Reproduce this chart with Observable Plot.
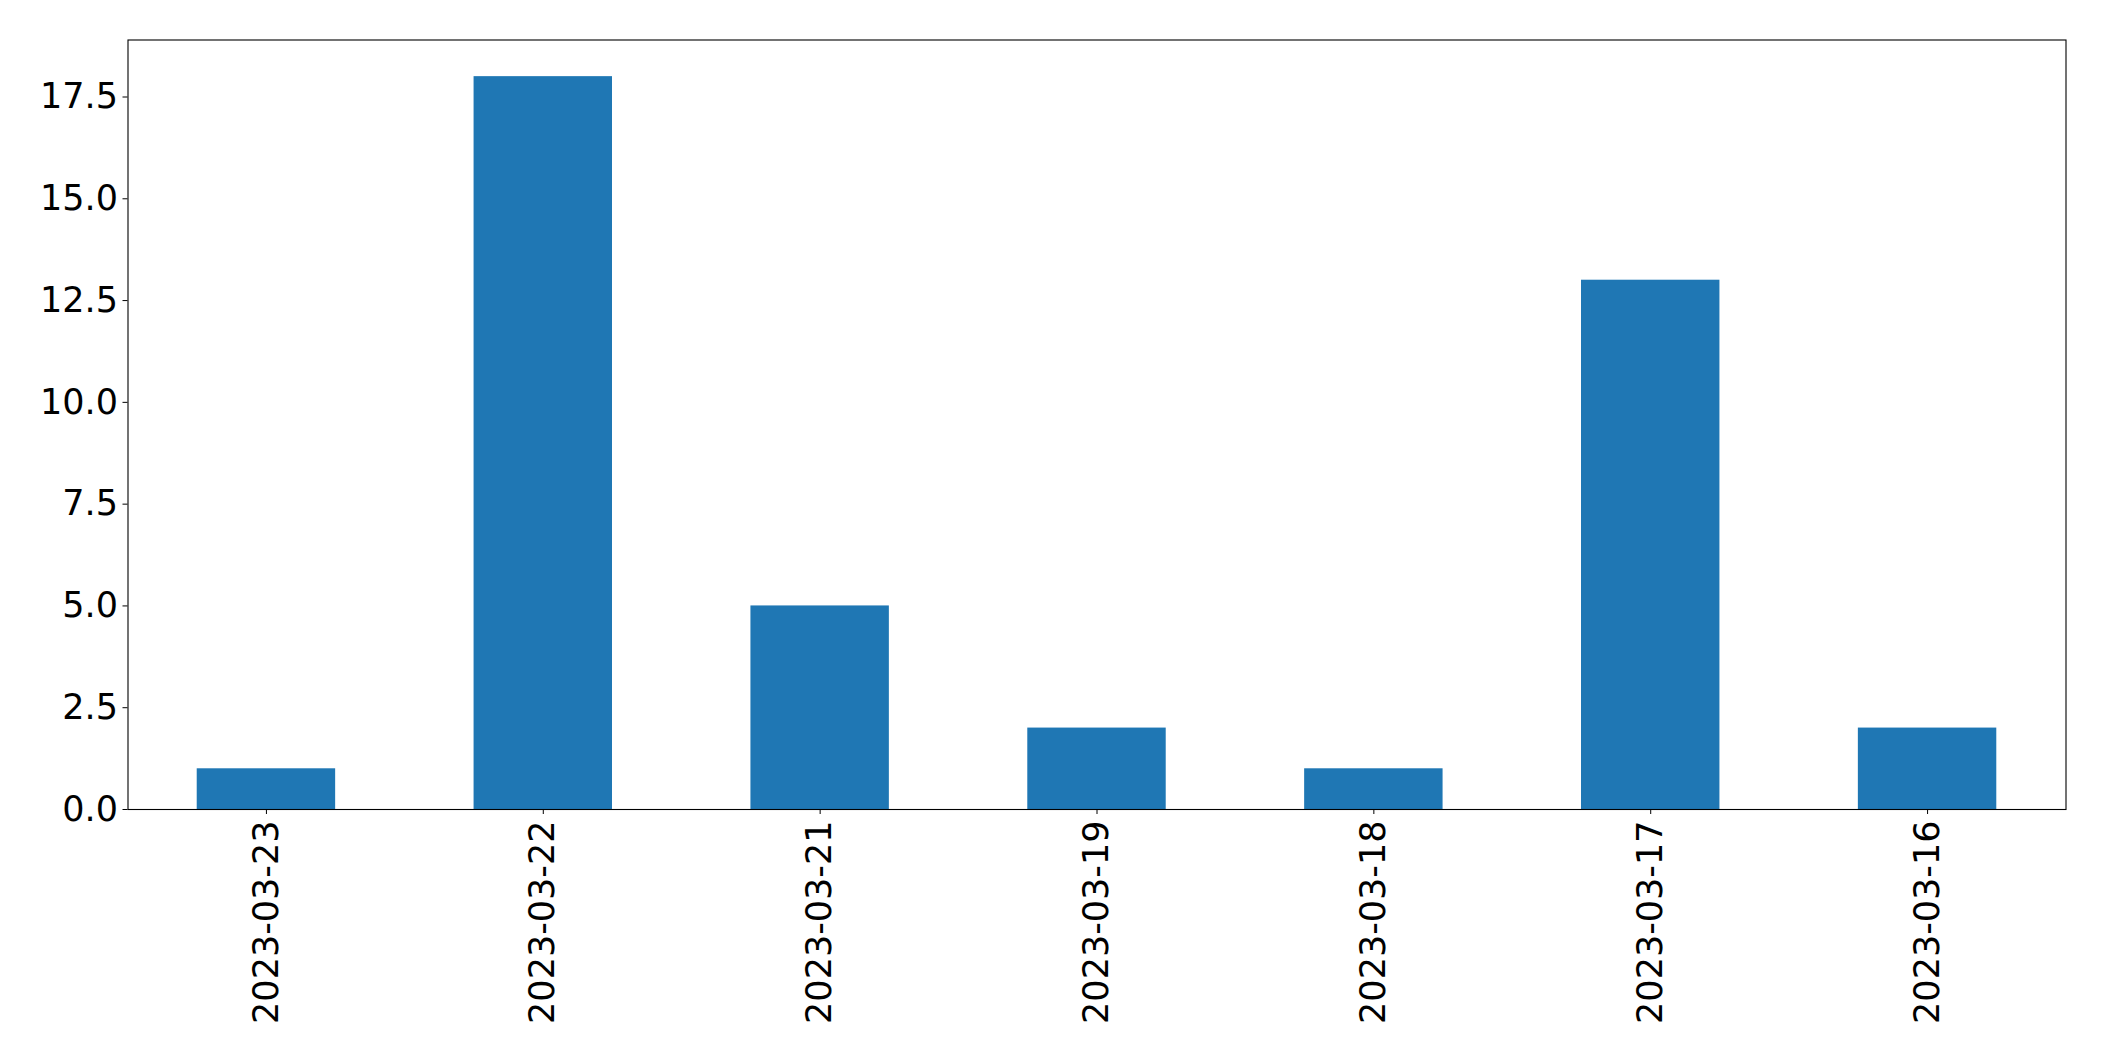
<!DOCTYPE html>
<html>
<head>
<meta charset="utf-8">
<script src="https://cdn.jsdelivr.net/npm/d3@7"></script>
<script src="https://cdn.jsdelivr.net/npm/@observablehq/plot@0.6"></script>
<style>
  html, body { margin: 0; padding: 0; background: #fff; }
</style>
</head>
<body>
<div id="chart"></div>
<script>
const dates = ["2023-03-23", "2023-03-22", "2023-03-21", "2023-03-19", "2023-03-18", "2023-03-17", "2023-03-16"];
const counts = [1, 18, 5, 2, 1, 13, 2];
const yTicks = [0, 2.5, 5, 7.5, 10, 12.5, 15, 17.5];

const data = dates.map((d, i) => ({date: d, count: counts[i]}));

const chart = Plot.plot({
  width: 2104,
  height: 1061,
  marginLeft: 127.5,
  marginRight: 38.5,
  marginTop: 39.5,
  marginBottom: 252,
  style: {fontFamily: "DejaVu Sans", fontSize: "35px", color: "#000", background: "#fff"},
  x: {type: "band", domain: dates, paddingInner: 0.5, paddingOuter: 0.25, align: 0.5, round: false},
  y: {domain: [0, 18.9]},
  marks: [
    Plot.barY(data, {x: "date", y: "count", fill: "#1f77b4"}),
    Plot.frame({stroke: "#000", strokeWidth: 1.1}),
    Plot.axisY({ticks: yTicks, tickFormat: d3.format(".1f"), tickSize: 5, tickPadding: 5, label: null, stroke: "#000", fontSize: 35}),
    Plot.axisX({tickRotate: -90, tickSize: 5, tickPadding: 6, label: null, stroke: "#000", fontSize: 35})
  ]
});
document.getElementById("chart").appendChild(chart);
</script>
</body>
</html>
